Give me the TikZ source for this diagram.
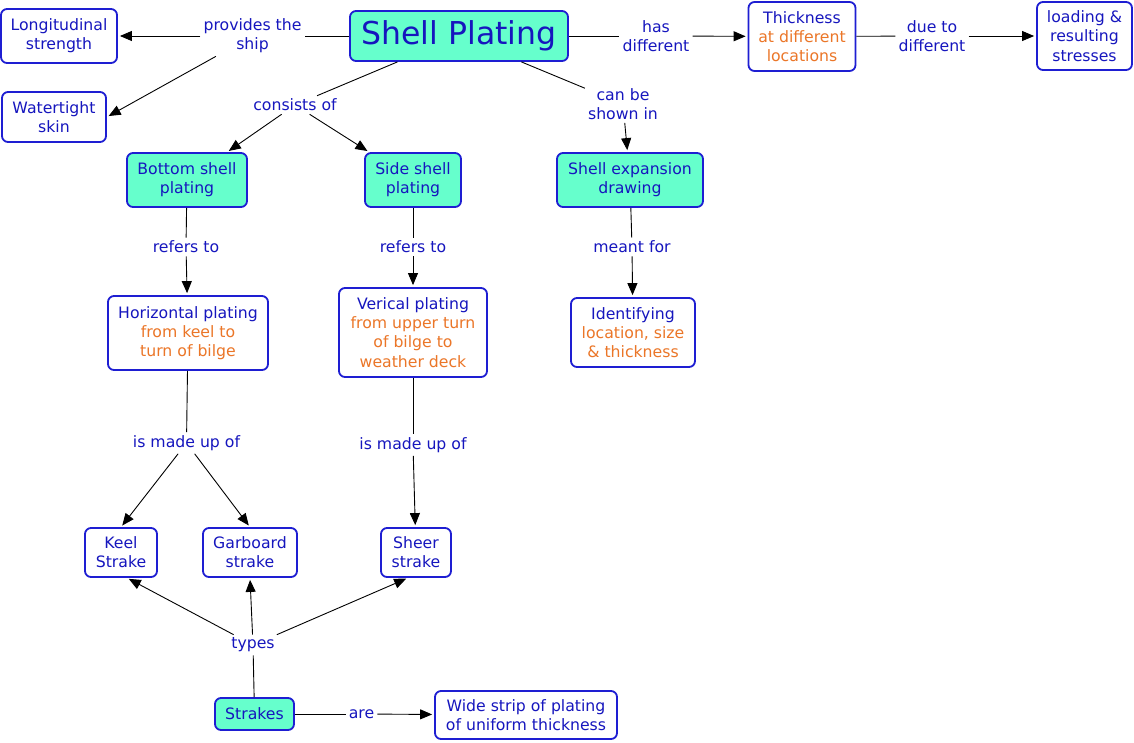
\documentclass[tikz,border=0pt]{standalone}
\usepackage{fontspec}
\setmainfont{DejaVu Sans}
\usetikzlibrary{arrows.meta}
\definecolor{fillc}{RGB}{102,255,204}
\definecolor{bordc}{RGB}{30,30,210}
\definecolor{txtc}{RGB}{22,22,190}
\definecolor{orng}{RGB}{235,118,40}
\begin{document}
\begin{tikzpicture}[x=1pt,y=-1pt,
  every node/.style={font=\fontsize{15.7}{19.2}\selectfont, text=txtc, align=center, inner sep=0pt},
  box/.style={draw=bordc, line width=1.8pt, rounded corners=6pt, fill=white},
  cbox/.style={box, fill=fillc},
  lbl/.style={inner sep=3pt},
  ln/.style={draw=black, line width=0.9pt},
  arr/.style={ln, -{Triangle[length=12pt,width=10pt]}, shorten >=2pt}
]
\useasboundingbox[fill=white] (0,0) rectangle (1134,742);

% concept boxes
\node[cbox, minimum width=218pt, minimum height=50pt, font=\fontsize{31.5}{36}\selectfont] (sp) at (459,36) {Shell Plating};
\node[box, minimum width=116pt, minimum height=54pt] (long) at (59,36) {Longitudinal\\strength};
\node[box, minimum width=104pt, minimum height=50pt] (water) at (54,117) {Watertight\\skin};
\node[box, minimum width=107pt, minimum height=69pt] (thick) at (802,36.5) {Thickness\\\textcolor{orng}{at different}\\\textcolor{orng}{locations}};
\node[box, minimum width=95pt, minimum height=68pt] (load) at (1084.5,36) {loading \&\\resulting\\stresses};
\node[cbox, minimum width=120pt, minimum height=54pt] (bot) at (187,180) {Bottom shell\\plating};
\node[cbox, minimum width=96pt, minimum height=54pt] (side) at (413,180) {Side shell\\plating};
\node[cbox, minimum width=146pt, minimum height=54pt] (exp) at (630,180) {Shell expansion\\drawing};
\node[box, minimum width=160pt, minimum height=74pt] (hor) at (188,333) {Horizontal plating\\\textcolor{orng}{from keel to}\\\textcolor{orng}{turn of bilge}};
\node[box, minimum width=148pt, minimum height=89pt] (ver) at (413,332.5) {Verical plating\\\textcolor{orng}{from upper turn}\\\textcolor{orng}{of bilge to}\\\textcolor{orng}{weather deck}};
\node[box, minimum width=124pt, minimum height=69pt] (ident) at (633,332.5) {Identifying\\\textcolor{orng}{location, size}\\\textcolor{orng}{\& thickness}};
\node[box, minimum width=72pt, minimum height=49pt] (keel) at (121,552.5) {Keel\\Strake};
\node[box, minimum width=94pt, minimum height=49pt] (garb) at (250,552.5) {Garboard\\strake};
\node[box, minimum width=70pt, minimum height=49pt] (sheer) at (416,552.5) {Sheer\\strake};
\node[cbox, minimum width=79pt, minimum height=32pt] (strakes) at (254.5,714) {Strakes};
\node[box, minimum width=182pt, minimum height=48pt] (wide) at (526,715) {Wide strip of plating\\of uniform thickness};

% linking phrases
\node[lbl] (prov) at (252.5,36) {provides the\\ship};
\node[lbl] (has) at (656,36) {has\\different};
\node[lbl] (due) at (932,36) {due to\\different};
\node[lbl] (cons) at (295,105) {consists of};
\node[lbl] (can) at (623,104) {can be\\shown in};
\node[lbl] (ref1) at (186,247) {refers to};
\node[lbl] (ref2) at (413,247) {refers to};
\node[lbl] (meant) at (632,247) {meant for};
\node[lbl] (made1) at (186.5,443) {is made up of};
\node[lbl] (made2) at (413,445) {is made up of};
\node[lbl] (types) at (253,645) {types};
\node[lbl] (are) at (361.5,714) {are};

% connectors
\draw[ln] (sp) -- (prov);
\draw[arr] (prov) -- (long);
\draw[arr] (prov) -- (water.east);
\draw[ln] (sp) -- (has);
\draw[arr] (has) -- (thick);
\draw[ln] (thick) -- (due);
\draw[arr] (due) -- (load);
\draw[ln] (sp) -- (cons);
\draw[arr] (cons) -- (bot);
\draw[arr] (cons) -- (side);
\draw[ln] (sp) -- (can);
\draw[arr] (can) -- (exp);
\draw[ln] (bot) -- (ref1);
\draw[arr] (ref1) -- (hor);
\draw[ln] (side) -- (ref2);
\draw[arr] (ref2) -- (ver);
\draw[ln] (exp) -- (meant);
\draw[arr] (meant) -- (ident);
\draw[ln] (hor) -- (made1);
\draw[arr] (made1) -- (keel.north);
\draw[arr] (made1) -- (garb.north);
\draw[ln] (ver) -- (made2);
\draw[arr] (made2) -- (sheer);
\draw[ln] (strakes) -- (types);
\draw[arr] (types) -- ([xshift=6pt]keel.south);
\draw[arr] (types) -- (garb.south);
\draw[arr] (types) -- ([xshift=-8pt]sheer.south);
\draw[ln] (strakes) -- (are);
\draw[arr] (are) -- (wide);
\end{tikzpicture}
\end{document}
